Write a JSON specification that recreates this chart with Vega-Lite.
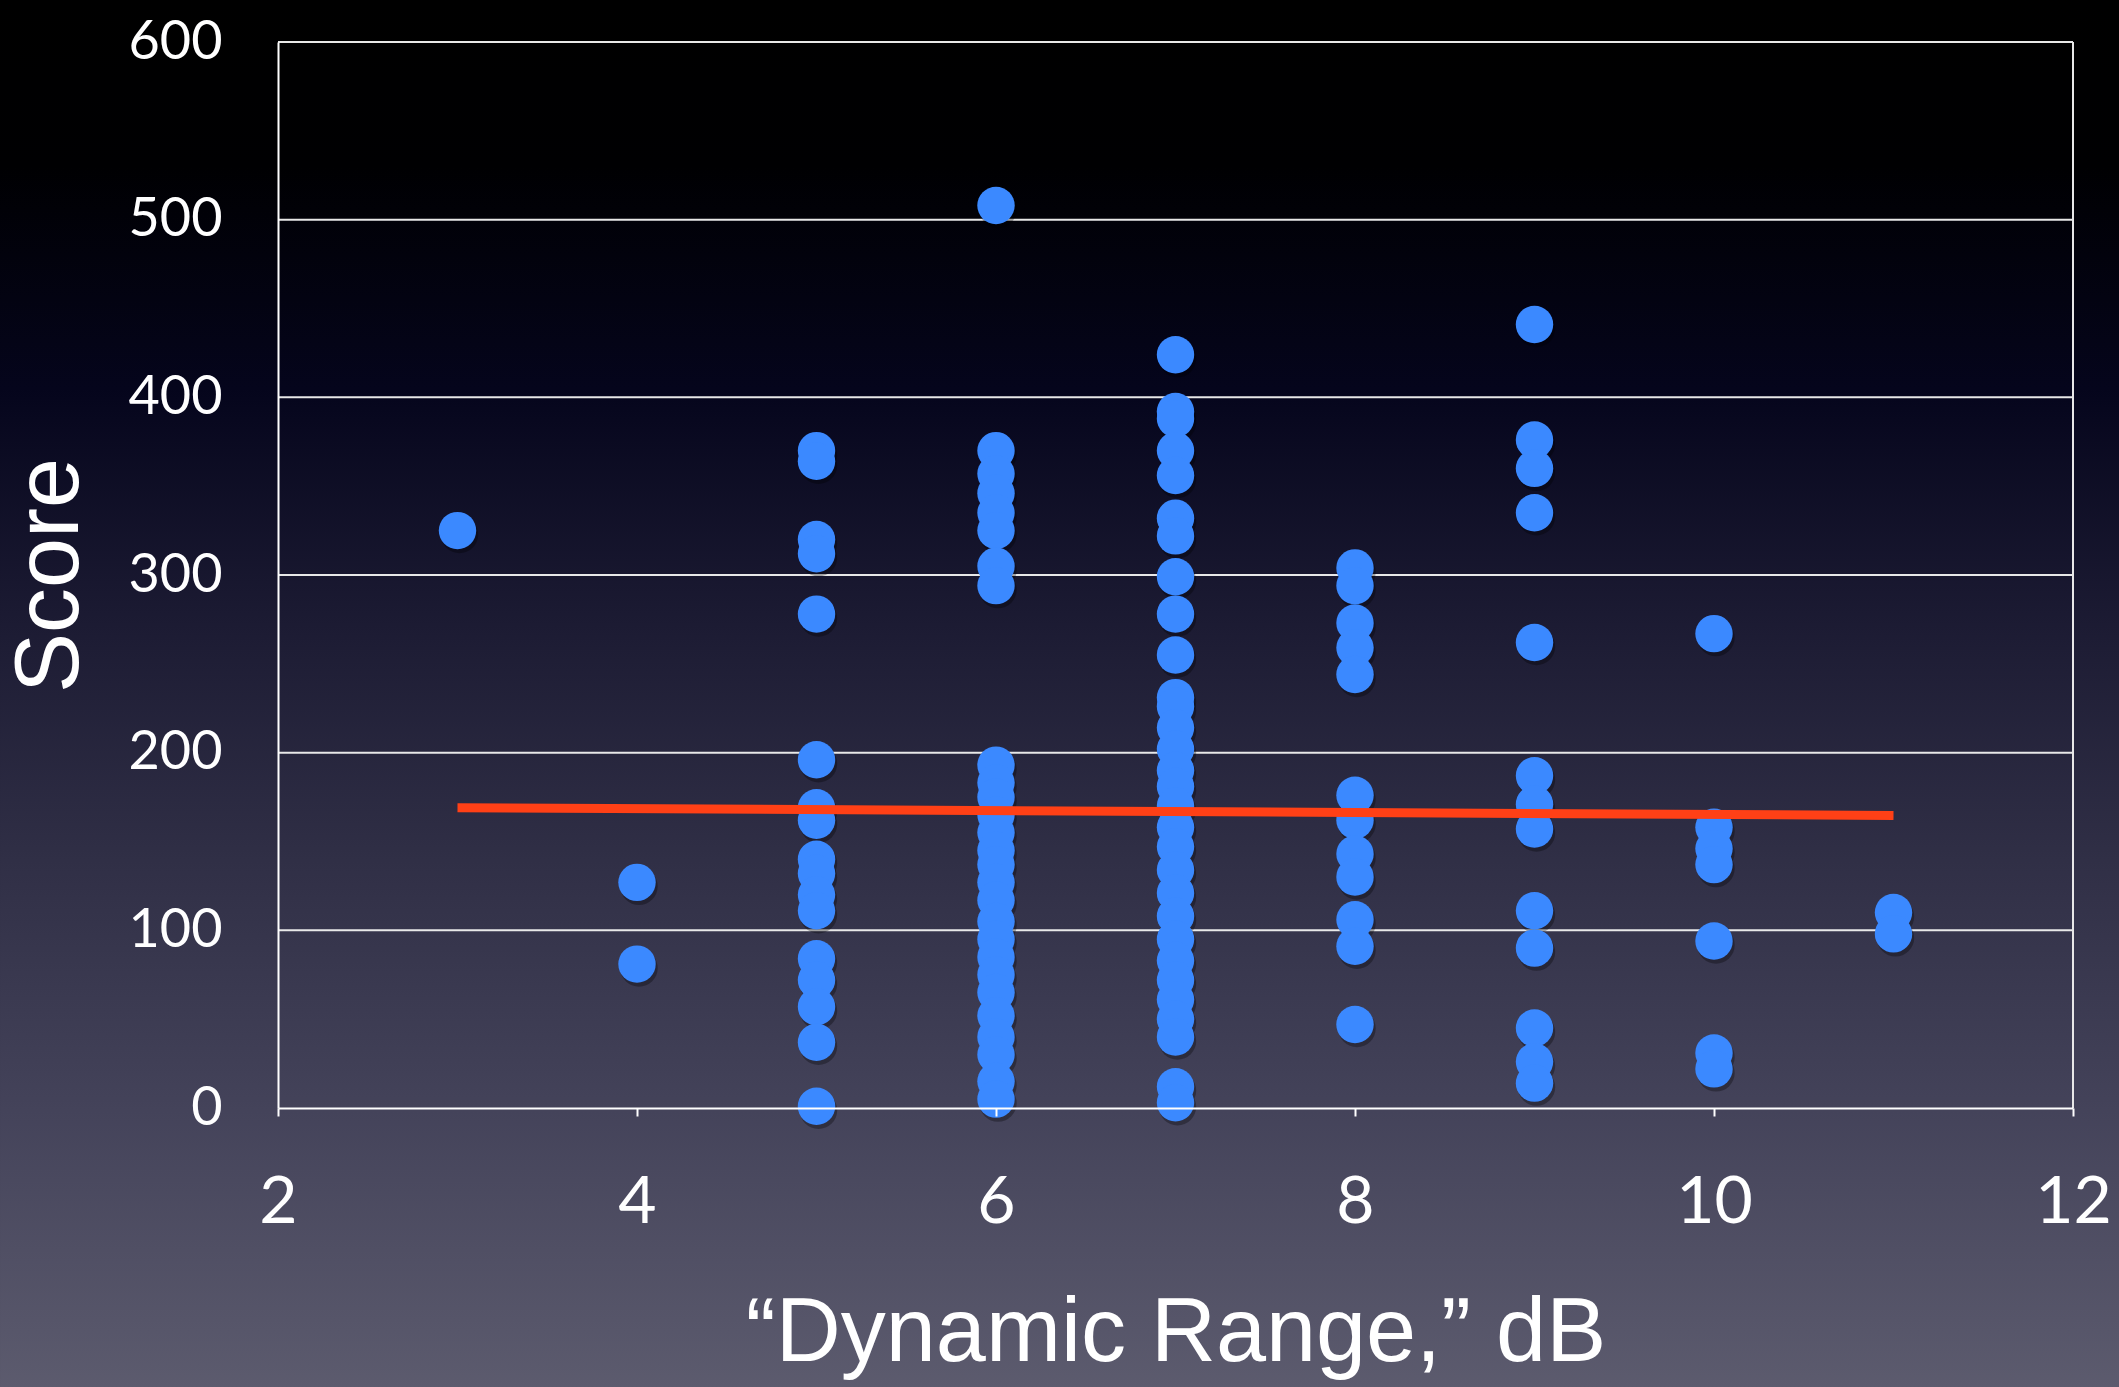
{
  "$schema": "https://vega.github.io/schema/vega-lite/v6.json",
  "width": 1795,
  "height": 1066,
  "autosize": {"type": "none"},
  "padding": {"left": 278, "top": 42, "right": 46, "bottom": 279},
  "background": "#000000",
  "config": {
    "view": {"stroke": null},
    "axis": {
      "grid": false,
      "domainColor": "#ffffff",
      "domainWidth": 2,
      "labelColor": "#ffffff",
      "labelFont": "Lato",
      "labelFontSize": 54,
      "labelFlush": false,
      "titleColor": "#ffffff",
      "titleFont": "Liberation Sans",
      "titleFontSize": 90,
      "titleFontWeight": "normal"
    }
  },
  "datasets": {
    "scores": [
      {"dr": 3, "score": 325},
      {"dr": 4, "score": 127}, {"dr": 4, "score": 81},
      {"dr": 5, "score": 370}, {"dr": 5, "score": 364}, {"dr": 5, "score": 320}, {"dr": 5, "score": 312},
      {"dr": 5, "score": 278}, {"dr": 5, "score": 196}, {"dr": 5, "score": 169}, {"dr": 5, "score": 162},
      {"dr": 5, "score": 140}, {"dr": 5, "score": 132}, {"dr": 5, "score": 120}, {"dr": 5, "score": 111},
      {"dr": 5, "score": 84}, {"dr": 5, "score": 72}, {"dr": 5, "score": 57}, {"dr": 5, "score": 37},
      {"dr": 5, "score": 1},
      {"dr": 6, "score": 508}, {"dr": 6, "score": 370}, {"dr": 6, "score": 357}, {"dr": 6, "score": 346},
      {"dr": 6, "score": 335}, {"dr": 6, "score": 325}, {"dr": 6, "score": 305}, {"dr": 6, "score": 294},
      {"dr": 6, "score": 193}, {"dr": 6, "score": 183}, {"dr": 6, "score": 175}, {"dr": 6, "score": 165},
      {"dr": 6, "score": 155}, {"dr": 6, "score": 145}, {"dr": 6, "score": 137}, {"dr": 6, "score": 127},
      {"dr": 6, "score": 117}, {"dr": 6, "score": 105}, {"dr": 6, "score": 95}, {"dr": 6, "score": 85},
      {"dr": 6, "score": 75}, {"dr": 6, "score": 65}, {"dr": 6, "score": 52}, {"dr": 6, "score": 40},
      {"dr": 6, "score": 30}, {"dr": 6, "score": 15}, {"dr": 6, "score": 5},
      {"dr": 7, "score": 424}, {"dr": 7, "score": 392}, {"dr": 7, "score": 388}, {"dr": 7, "score": 370},
      {"dr": 7, "score": 356}, {"dr": 7, "score": 332}, {"dr": 7, "score": 322}, {"dr": 7, "score": 299},
      {"dr": 7, "score": 278}, {"dr": 7, "score": 255}, {"dr": 7, "score": 231}, {"dr": 7, "score": 226},
      {"dr": 7, "score": 214}, {"dr": 7, "score": 202}, {"dr": 7, "score": 190}, {"dr": 7, "score": 181},
      {"dr": 7, "score": 170}, {"dr": 7, "score": 158}, {"dr": 7, "score": 147}, {"dr": 7, "score": 134},
      {"dr": 7, "score": 121}, {"dr": 7, "score": 108}, {"dr": 7, "score": 95}, {"dr": 7, "score": 83},
      {"dr": 7, "score": 72}, {"dr": 7, "score": 61}, {"dr": 7, "score": 50}, {"dr": 7, "score": 40},
      {"dr": 7, "score": 12}, {"dr": 7, "score": 3},
      {"dr": 8, "score": 304}, {"dr": 8, "score": 294}, {"dr": 8, "score": 273}, {"dr": 8, "score": 259},
      {"dr": 8, "score": 244}, {"dr": 8, "score": 176}, {"dr": 8, "score": 162}, {"dr": 8, "score": 143},
      {"dr": 8, "score": 130}, {"dr": 8, "score": 106}, {"dr": 8, "score": 91}, {"dr": 8, "score": 47},
      {"dr": 9, "score": 441}, {"dr": 9, "score": 376}, {"dr": 9, "score": 360}, {"dr": 9, "score": 335},
      {"dr": 9, "score": 262}, {"dr": 9, "score": 187}, {"dr": 9, "score": 171}, {"dr": 9, "score": 157},
      {"dr": 9, "score": 111}, {"dr": 9, "score": 90}, {"dr": 9, "score": 45}, {"dr": 9, "score": 26},
      {"dr": 9, "score": 14},
      {"dr": 10, "score": 267}, {"dr": 10, "score": 158}, {"dr": 10, "score": 146}, {"dr": 10, "score": 137},
      {"dr": 10, "score": 94}, {"dr": 10, "score": 31}, {"dr": 10, "score": 22},
      {"dr": 11, "score": 110}, {"dr": 11, "score": 98}
    ],
    "trend": [
      {"dr": 3, "score": 169},
      {"dr": 11, "score": 164.7}
    ],
    "gridlines": [
      {"score": 100}, {"score": 200}, {"score": 300}, {"score": 400}, {"score": 500}, {"score": 600}
    ]
  },
  "layer": [
    {
      "data": {"values": [{"x0": 0.4513, "x1": 12.2563, "y0": 624, "y1": -158}]},
      "mark": {
        "type": "rect", "clip": false,
        "fill": {
          "gradient": "linear", "x1": 0, "y1": 0, "x2": 0, "y2": 1,
          "stops": [
            {"offset": 0, "color": "#000000"},
            {"offset": 0.12, "color": "#000002"},
            {"offset": 0.28, "color": "#05051c"},
            {"offset": 0.45, "color": "#1c1b33"},
            {"offset": 0.62, "color": "#302f46"},
            {"offset": 0.8, "color": "#44435a"},
            {"offset": 1, "color": "#5c5b6e"}
          ]
        }
      },
      "encoding": {
        "x": {"field": "x0", "type": "quantitative", "scale": {"domain": [2, 12], "nice": false, "zero": false}},
        "x2": {"field": "x1"},
        "y": {"field": "y0", "type": "quantitative", "scale": {"domain": [0, 600], "nice": false}},
        "y2": {"field": "y1"}
      }
    },
    {
      "data": {"name": "gridlines"},
      "mark": {"type": "rule", "color": "#e8e8e8", "strokeWidth": 2},
      "encoding": {"y": {"field": "score", "type": "quantitative"}}
    },
    {
      "data": {"values": [{"dr": 12}]},
      "mark": {"type": "rule", "color": "#e8e8e8", "strokeWidth": 2},
      "encoding": {"x": {"field": "dr", "type": "quantitative"}}
    },
    {
      "data": {"name": "scores"},
      "mark": {"type": "circle", "color": "#000000", "opacity": 0.3, "size": 1400, "xOffset": 2, "yOffset": 4},
      "encoding": {
        "x": {"field": "dr", "type": "quantitative"},
        "y": {"field": "score", "type": "quantitative"}
      }
    },
    {
      "data": {"name": "scores"},
      "mark": {"type": "circle", "color": "#3b89ff", "opacity": 1, "size": 1400},
      "encoding": {
        "x": {
          "field": "dr", "type": "quantitative",
          "axis": {
            "zindex": 1,
            "values": [2, 4, 6, 8, 10, 12],
            "format": "d",
            "title": "“Dynamic Range,” dB",
            "ticks": true, "tickColor": "#ffffff", "tickSize": 8, "tickWidth": 2,
            "labelFontSize": 66,
            "labelPadding": 54,
            "titlePadding": 54
          }
        },
        "y": {
          "field": "score", "type": "quantitative",
          "axis": {
            "zindex": 1,
            "values": [0, 100, 200, 300, 400, 500, 600],
            "format": "d",
            "title": "Score",
            "ticks": false,
            "labelPadding": 56,
            "titlePadding": 32
          }
        }
      }
    },
    {
      "data": {"name": "trend"},
      "mark": {"type": "line", "color": "#ff4016", "strokeWidth": 9},
      "encoding": {
        "x": {"field": "dr", "type": "quantitative"},
        "y": {"field": "score", "type": "quantitative"}
      }
    }
  ]
}
